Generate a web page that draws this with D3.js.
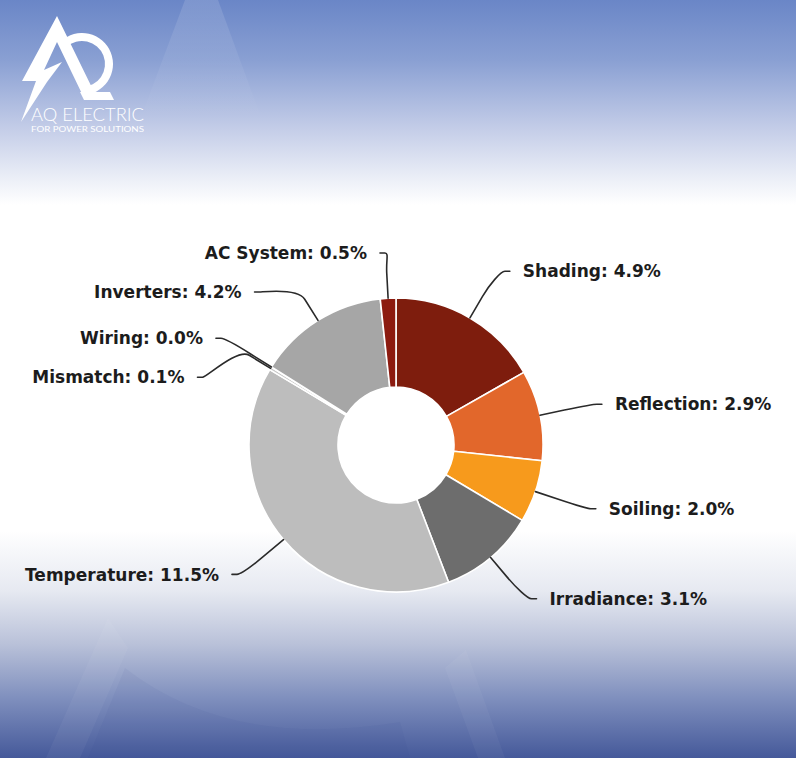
<!DOCTYPE html>
<html>
<head>
<meta charset="utf-8">
<script src="https://cdn.jsdelivr.net/npm/d3@7/dist/d3.min.js"></script>
<style>
  html, body { margin: 0; padding: 0; background: #fff; }
  svg { display: block; }
</style>
</head>
<body>
<svg id="chart" width="796" height="758"></svg>
<script>
// ---------------- data ----------------
const categories = ["Shading", "Reflection", "Soiling", "Irradiance", "Temperature", "Mismatch", "Wiring", "Inverters", "AC System"];
const values = [4.9, 2.9, 2.0, 3.1, 11.5, 0.1, 0.0, 4.2, 0.5];
const palette = ["#7e1d0d", "#e2672b", "#f79a1c", "#6d6d6d", "#bdbdbd", "#c9c9c9", "#b0b0b0", "#a6a6a6", "#8c1b10"];

// ---------------- setup ----------------
const W = 796, H = 758;
const svg = d3.select("#chart");
const defs = svg.append("defs");

// background gradient
const bg = defs.append("linearGradient").attr("id", "bg").attr("x1", 0).attr("y1", 0).attr("x2", 0).attr("y2", 1);
[[0, "#6a86c7"], [0.08, "#8aa0d3"], [0.17, "#c4cde8"], [0.24, "#eef1f8"], [0.27, "#ffffff"],
 [0.70, "#ffffff"], [0.78, "#e6e9f1"], [0.85, "#b9c1d9"], [0.92, "#8090be"], [1, "#45599a"]]
  .forEach(([o, c]) => bg.append("stop").attr("offset", o).attr("stop-color", c));
svg.append("rect").attr("width", W).attr("height", H).attr("fill", "url(#bg)");

// faint watermark shapes
const wmTop = defs.append("linearGradient").attr("id", "wmTop").attr("x1", 0).attr("y1", 0).attr("x2", 0).attr("y2", 1);
wmTop.append("stop").attr("offset", 0).attr("stop-color", "#fff").attr("stop-opacity", 0.13);
wmTop.append("stop").attr("offset", 1).attr("stop-color", "#fff").attr("stop-opacity", 0);
svg.append("path").attr("d", "M185,0 L218,0 L262,120 L140,120 Z").attr("fill", "url(#wmTop)");
const wm = svg.append("g").attr("fill", "#fff");
wm.append("path").attr("d", "M46,758 L80,758 L128,648 L108,618 Z").attr("opacity", 0.045);
wm.append("path").attr("d", "M466,650 L505,758 L478,758 L445,668 Z").attr("opacity", 0.04);
wm.append("path").attr("d", "M125,668 Q230,750 400,722 L410,758 L88,758 Z").attr("fill", "#2a3f80").attr("opacity", 0.05);

// ---------------- logo ----------------
const logo = svg.append("g").attr("fill", "#fff");
logo.append("path").attr("d",
  "M57,16 L98,100 L85,100 L57,42 L44,70 L62,62 L47,82 L21,122 L36,81 L22,81 Z");
logo.append("path")
  .attr("transform", "translate(82,64)")
  .attr("d", d3.arc().innerRadius(23).outerRadius(31).startAngle(-0.75).endAngle(Math.PI)());
logo.append("path").attr("d", "M80,92 L110,92 L114,100 L84,100 Z");
logo.append("text").attr("x", 31).attr("y", 121)
  .attr("font-family", "Lato, 'Open Sans', sans-serif").attr("font-weight", 300)
  .attr("font-size", 17.5).attr("textLength", 113).attr("lengthAdjust", "spacingAndGlyphs")
  .text("AQ ELECTRIC");
logo.append("text").attr("x", 31).attr("y", 132)
  .attr("font-family", "Lato, 'Open Sans', sans-serif").attr("font-weight", 400)
  .attr("font-size", 7).attr("textLength", 113).attr("lengthAdjust", "spacingAndGlyphs")
  .text("FOR POWER SOLUTIONS");

// ---------------- donut ----------------
const cx = 396, cy = 445;
const rIn = 58, rOut = 147;
const rBreak = 172, rLabel = 205, rLabelY = 201;

const data = categories.map((c, i) => ({ name: c, value: values[i] }));
const color = d3.scaleOrdinal(categories, palette);
const pie = d3.pie().sort(null).value(d => d.value);
const arcs = pie(data);
const arc = d3.arc().innerRadius(rIn).outerRadius(rOut);

const g = svg.append("g").attr("transform", `translate(${cx},${cy})`);
g.selectAll("path.slice").data(arcs).join("path")
  .attr("class", "slice")
  .attr("d", arc)
  .attr("fill", d => color(d.data.name))
  .attr("stroke", "#fff")
  .attr("stroke-width", 1.6)
  .attr("stroke-linejoin", "round");

// ---------------- labels ----------------
const items = arcs.map(a => {
  const mid = (a.startAngle + a.endAngle) / 2;
  const side = Math.sin(mid) >= 0 ? 1 : -1;
  return {
    a, mid, side,
    ny: -rLabelY * Math.cos(mid),
    nx: rLabel * Math.sin(mid),
    touch: [rOut * Math.sin(mid), -rOut * Math.cos(mid)],
    brk: [rBreak * Math.sin(mid), -rBreak * Math.cos(mid)]
  };
});

const spacing = 39, topLimit = -192;
[1, -1].forEach(s => {
  const list = items.filter(d => d.side === s).sort((p, q) => p.ny - q.ny);
  let prev = -Infinity;
  list.forEach(d => {
    d.y = Math.max(d.ny, topLimit, prev + spacing);
    prev = d.y;
  });
});
items.forEach(d => {
  if (Math.abs(d.y) > 0.9 * rLabel) {
    d.x = d.nx;
  } else {
    d.x = d.side * Math.sqrt(Math.max(0, rLabel * rLabel - d.y * d.y));
  }
});

g.selectAll("path.conn").data(items).join("path")
  .attr("class", "conn")
  .attr("fill", "none")
  .attr("stroke", "#2a2a2a")
  .attr("stroke-width", 1.6)
  .attr("stroke-linecap", "round")
  .attr("d", d => {
    const k = 0.55;
    const c2 = [d.brk[0] + k * (d.brk[0] - d.touch[0]), d.brk[1] + k * (d.brk[1] - d.touch[1])];
    const p = d3.path();
    p.moveTo(d.x + d.side * 5, d.y);
    p.lineTo(d.x, d.y);
    p.bezierCurveTo(d.x - d.side * 4, d.y, c2[0], c2[1], d.brk[0], d.brk[1]);
    p.lineTo(d.touch[0], d.touch[1]);
    return p.toString();
  });

g.selectAll("text.lbl").data(items).join("text")
  .attr("class", "lbl")
  .attr("x", d => d.x + d.side * 18)
  .attr("y", d => d.y)
  .attr("dy", "0.36em")
  .attr("text-anchor", d => d.side > 0 ? "start" : "end")
  .attr("font-family", "'DejaVu Sans', sans-serif")
  .attr("font-weight", "bold")
  .attr("font-size", 17)
  .attr("fill", "#1c1c1c")
  .text(d => `${d.a.data.name}: ${d3.format(".1f")(d.a.data.value)}%`);
</script>
</body>
</html>
